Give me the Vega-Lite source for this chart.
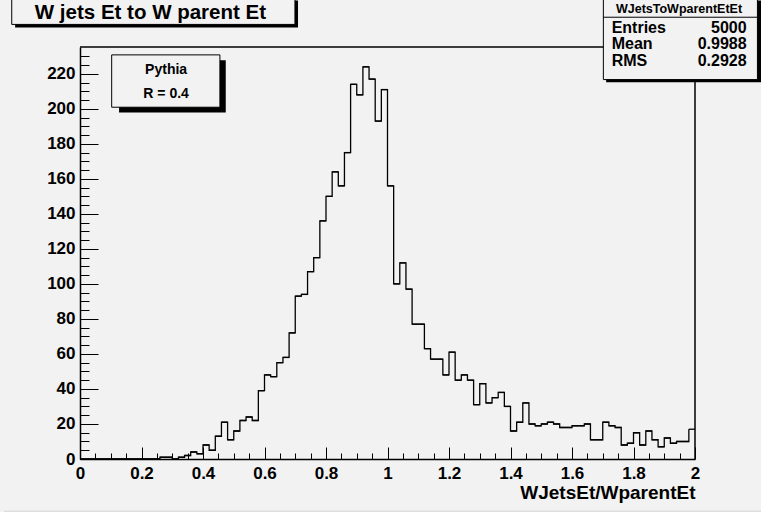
{
 "$schema": "https://vega.github.io/schema/vega-lite/v6.json",
 "width": 615, "height": 412,
 "autosize": "none",
 "padding": {"left": 80, "top": 47, "right": 66, "bottom": 53},
 "background": "#f2f2f2",
 "config": {"view": {"stroke": null}, "font": "Liberation Sans"},
 "resolve": {"axis": {"x": "independent", "y": "independent"}},
 "datasets": {"hist": [
  {"lo":0.00,"hi":0.02,"n":0},{"lo":0.02,"hi":0.04,"n":0},{"lo":0.04,"hi":0.06,"n":0},{"lo":0.06,"hi":0.08,"n":0},{"lo":0.08,"hi":0.10,"n":0},
  {"lo":0.10,"hi":0.12,"n":0},{"lo":0.12,"hi":0.14,"n":0},{"lo":0.14,"hi":0.16,"n":0},{"lo":0.16,"hi":0.18,"n":0},{"lo":0.18,"hi":0.20,"n":0},
  {"lo":0.20,"hi":0.22,"n":0},{"lo":0.22,"hi":0.24,"n":0},{"lo":0.24,"hi":0.26,"n":0},{"lo":0.26,"hi":0.28,"n":1},{"lo":0.28,"hi":0.30,"n":1},
  {"lo":0.30,"hi":0.32,"n":0},{"lo":0.32,"hi":0.34,"n":1},{"lo":0.34,"hi":0.36,"n":2},{"lo":0.36,"hi":0.38,"n":4},{"lo":0.38,"hi":0.40,"n":3},
  {"lo":0.40,"hi":0.42,"n":8},{"lo":0.42,"hi":0.44,"n":5},{"lo":0.44,"hi":0.46,"n":13},{"lo":0.46,"hi":0.48,"n":21},{"lo":0.48,"hi":0.50,"n":11},
  {"lo":0.50,"hi":0.52,"n":16},{"lo":0.52,"hi":0.54,"n":22},{"lo":0.54,"hi":0.56,"n":24},{"lo":0.56,"hi":0.58,"n":22},{"lo":0.58,"hi":0.60,"n":39},
  {"lo":0.60,"hi":0.62,"n":48},{"lo":0.62,"hi":0.64,"n":47},{"lo":0.64,"hi":0.66,"n":55},{"lo":0.66,"hi":0.68,"n":58},{"lo":0.68,"hi":0.70,"n":72},
  {"lo":0.70,"hi":0.72,"n":93},{"lo":0.72,"hi":0.74,"n":94},{"lo":0.74,"hi":0.76,"n":107},{"lo":0.76,"hi":0.78,"n":115},{"lo":0.78,"hi":0.80,"n":136},
  {"lo":0.80,"hi":0.82,"n":150},{"lo":0.82,"hi":0.84,"n":164},{"lo":0.84,"hi":0.86,"n":156},{"lo":0.86,"hi":0.88,"n":175},{"lo":0.88,"hi":0.90,"n":214},
  {"lo":0.90,"hi":0.92,"n":208},{"lo":0.92,"hi":0.94,"n":224},{"lo":0.94,"hi":0.96,"n":217},{"lo":0.96,"hi":0.98,"n":193},{"lo":0.98,"hi":1.00,"n":211},
  {"lo":1.00,"hi":1.02,"n":156},{"lo":1.02,"hi":1.04,"n":100},{"lo":1.04,"hi":1.06,"n":112},{"lo":1.06,"hi":1.08,"n":97},{"lo":1.08,"hi":1.10,"n":77},
  {"lo":1.10,"hi":1.12,"n":77},{"lo":1.12,"hi":1.14,"n":63},{"lo":1.14,"hi":1.16,"n":57},{"lo":1.16,"hi":1.18,"n":57},{"lo":1.18,"hi":1.20,"n":48},
  {"lo":1.20,"hi":1.22,"n":61},{"lo":1.22,"hi":1.24,"n":45},{"lo":1.24,"hi":1.26,"n":48},{"lo":1.26,"hi":1.28,"n":45},{"lo":1.28,"hi":1.30,"n":31},
  {"lo":1.30,"hi":1.32,"n":43},{"lo":1.32,"hi":1.34,"n":32},{"lo":1.34,"hi":1.36,"n":35},{"lo":1.36,"hi":1.38,"n":38},{"lo":1.38,"hi":1.40,"n":30},
  {"lo":1.40,"hi":1.42,"n":16},{"lo":1.42,"hi":1.44,"n":21},{"lo":1.44,"hi":1.46,"n":32},{"lo":1.46,"hi":1.48,"n":20},{"lo":1.48,"hi":1.50,"n":19},
  {"lo":1.50,"hi":1.52,"n":20},{"lo":1.52,"hi":1.54,"n":21},{"lo":1.54,"hi":1.56,"n":20},{"lo":1.56,"hi":1.58,"n":18},{"lo":1.58,"hi":1.60,"n":18},
  {"lo":1.60,"hi":1.62,"n":19},{"lo":1.62,"hi":1.64,"n":19},{"lo":1.64,"hi":1.66,"n":20},{"lo":1.66,"hi":1.68,"n":11},{"lo":1.68,"hi":1.70,"n":11},
  {"lo":1.70,"hi":1.72,"n":21},{"lo":1.72,"hi":1.74,"n":19},{"lo":1.74,"hi":1.76,"n":18},{"lo":1.76,"hi":1.78,"n":8},{"lo":1.78,"hi":1.80,"n":9},
  {"lo":1.80,"hi":1.82,"n":15},{"lo":1.82,"hi":1.84,"n":8},{"lo":1.84,"hi":1.86,"n":16},{"lo":1.86,"hi":1.88,"n":11},{"lo":1.88,"hi":1.90,"n":7},
  {"lo":1.90,"hi":1.92,"n":12},{"lo":1.92,"hi":1.94,"n":9},{"lo":1.94,"hi":1.96,"n":10},{"lo":1.96,"hi":1.98,"n":10},{"lo":1.98,"hi":2.00,"n":17}
 ]},
 "layer": [
  {
   "data": {"values": [{}]},
   "mark": {"type": "rect", "color": "#dedede", "clip": false},
   "encoding": {"x": {"datum": -0.247, "type": "quantitative", "axis": null}, "x2": {"datum": 2.22}, "y": {"datum": -29.4, "type": "quantitative", "axis": null}, "y2": {"datum": -31.5}}
  },
  {
   "data": {"name": "hist"},
   "mark": {"type": "line", "interpolate": "step-after", "color": "black", "strokeWidth": 1.3},
   "encoding": {
    "x": {"field": "lo", "type": "quantitative",
     "scale": {"domain": [0, 2], "nice": false, "zero": false},
     "axis": {
      "orient": "bottom",
      "title": "WJetsEt/WparentEt",
      "values": [0,0.2,0.4,0.6,0.8,1,1.2,1.4,1.6,1.8,2],
      "format": "~g",
      "tickSize": -12,
      "tickColor": "black", "tickWidth": 1,
      "domainColor": "black", "domainWidth": 1.5,
      "grid": false,
      "labelFont": "Liberation Sans", "labelFontSize": 17, "labelFontWeight": "bold", "labelColor": "black",
      "labelPadding": 18.5, "labelOverlap": false, "labelFlush": false, "labelBound": false,
      "titleFont": "Liberation Sans", "titleFontSize": 19, "titleFontWeight": "bold", "titleColor": "black",
      "titleAnchor": "end", "titleAlign": "right", "titleX": 615, "titleY": 39, "titleBaseline": "alphabetic"
     }},
    "y": {"field": "n", "type": "quantitative",
     "scale": {"domain": [0, 235.3], "nice": false, "zero": false},
     "axis": {
      "orient": "left",
      "title": null,
      "values": [0,20,40,60,80,100,120,140,160,180,200,220],
      "format": "d",
      "tickSize": -18,
      "tickColor": "black", "tickWidth": 1,
      "domainColor": "black", "domainWidth": 1.5,
      "grid": false,
      "labelFont": "Liberation Sans", "labelFontSize": 17, "labelFontWeight": "bold", "labelColor": "black",
      "labelPadding": 23, "labelOverlap": false, "labelBound": false, "labelFlush": false
     }}
   }
  },
  {
   "data": {"name": "hist"},
   "mark": {"type": "rule", "color": "black", "strokeWidth": 1.3},
   "encoding": {
    "x": {"field": "lo", "type": "quantitative",
     "axis": {
      "orient": "bottom", "title": null, "labels": false, "domain": false, "grid": false,
      "values": [0.05,0.1,0.15,0.25,0.3,0.35,0.45,0.5,0.55,0.65,0.7,0.75,0.85,0.9,0.95,1.05,1.1,1.15,1.25,1.3,1.35,1.45,1.5,1.55,1.65,1.7,1.75,1.85,1.9,1.95],
      "tickSize": -6, "tickColor": "black", "tickWidth": 1
     }},
    "x2": {"field": "hi"},
    "y": {"field": "n", "type": "quantitative",
     "axis": {
      "orient": "left", "title": null, "labels": false, "domain": false, "grid": false,
      "values": [5,10,15,25,30,35,45,50,55,65,70,75,85,90,95,105,110,115,125,130,135,145,150,155,165,170,175,185,190,195,205,210,215,225,230],
      "tickSize": -9, "tickColor": "black", "tickWidth": 1
     }}
   }
  },
  {
   "data": {"values": [{}]},
   "mark": {"type": "rule", "color": "black", "strokeWidth": 1.5, "clip": false},
   "encoding": {"x": {"datum": 0, "type": "quantitative", "axis": null}, "x2": {"datum": 2}, "y": {"datum": 235.3, "type": "quantitative", "axis": null}}
  },
  {
   "data": {"values": [{}]},
   "mark": {"type": "rule", "color": "black", "strokeWidth": 1.5, "clip": false},
   "encoding": {"x": {"datum": 2, "type": "quantitative", "axis": null}, "y": {"datum": 0, "type": "quantitative", "axis": null}, "y2": {"datum": 235.3}}
  },
  {
   "data": {"values": [{}]},
   "mark": {"type": "rect", "color": "black", "clip": false},
   "encoding": {"x": {"datum": -0.211, "type": "quantitative", "axis": null}, "x2": {"datum": 0.709}, "y": {"datum": 261.8, "type": "quantitative", "axis": null}, "y2": {"datum": 246.4}}
  },
  {
   "data": {"values": [{}]},
   "mark": {"type": "rect", "fill": "#f2f2f2", "stroke": "black", "strokeWidth": 1, "clip": false},
   "encoding": {"x": {"datum": -0.222, "type": "quantitative", "axis": null}, "x2": {"datum": 0.699}, "y": {"datum": 263, "type": "quantitative", "axis": null}, "y2": {"datum": 248.2}}
  },
  {
   "data": {"values": [{}]},
   "mark": {"type": "text", "font": "Liberation Sans", "fontSize": 20.5, "fontWeight": "bold", "color": "black", "align": "center", "baseline": "middle", "clip": false},
   "encoding": {"x": {"datum": 0.229, "type": "quantitative", "axis": null}, "y": {"datum": 255, "type": "quantitative", "axis": null}, "text": {"value": "W jets Et to W parent Et"}}
  },
  {
   "data": {"values": [{}]},
   "mark": {"type": "rect", "color": "black", "clip": false},
   "encoding": {"x": {"datum": 0.127, "type": "quantitative", "axis": null}, "x2": {"datum": 0.474}, "y": {"datum": 227.7, "type": "quantitative", "axis": null}, "y2": {"datum": 197.9}}
  },
  {
   "data": {"values": [{}]},
   "mark": {"type": "rect", "fill": "#f2f2f2", "stroke": "black", "strokeWidth": 1, "clip": false},
   "encoding": {"x": {"datum": 0.103, "type": "quantitative", "axis": null}, "x2": {"datum": 0.455}, "y": {"datum": 230.8, "type": "quantitative", "axis": null}, "y2": {"datum": 200.9}}
  },
  {
   "data": {"values": [{}]},
   "mark": {"type": "text", "font": "Liberation Sans", "fontSize": 14, "fontWeight": "bold", "color": "black", "align": "center", "baseline": "middle", "clip": false},
   "encoding": {"x": {"datum": 0.280, "type": "quantitative", "axis": null}, "y": {"datum": 222.4, "type": "quantitative", "axis": null}, "text": {"value": "Pythia"}}
  },
  {
   "data": {"values": [{}]},
   "mark": {"type": "text", "font": "Liberation Sans", "fontSize": 14, "fontWeight": "bold", "color": "black", "align": "center", "baseline": "middle", "clip": false},
   "encoding": {"x": {"datum": 0.280, "type": "quantitative", "axis": null}, "y": {"datum": 208.7, "type": "quantitative", "axis": null}, "text": {"value": "R = 0.4"}}
  },
  {
   "data": {"values": [{}]},
   "mark": {"type": "rect", "color": "black", "clip": false},
   "encoding": {"x": {"datum": 1.711, "type": "quantitative", "axis": null}, "x2": {"datum": 2.215}, "y": {"datum": 261.8, "type": "quantitative", "axis": null}, "y2": {"datum": 215.1}}
  },
  {
   "data": {"values": [{}]},
   "mark": {"type": "rect", "fill": "#f2f2f2", "stroke": "black", "strokeWidth": 1, "clip": false},
   "encoding": {"x": {"datum": 1.702, "type": "quantitative", "axis": null}, "x2": {"datum": 2.203}, "y": {"datum": 263, "type": "quantitative", "axis": null}, "y2": {"datum": 216.7}}
  },
  {
   "data": {"values": [{}]},
   "mark": {"type": "rule", "color": "black", "strokeWidth": 1, "clip": false},
   "encoding": {"x": {"datum": 1.702, "type": "quantitative", "axis": null}, "x2": {"datum": 2.203}, "y": {"datum": 252.3, "type": "quantitative", "axis": null}}
  },
  {
   "data": {"values": [{}]},
   "mark": {"type": "text", "font": "Liberation Sans", "fontSize": 12.5, "fontWeight": "bold", "color": "black", "align": "center", "baseline": "middle", "clip": false},
   "encoding": {"x": {"datum": 1.948, "type": "quantitative", "axis": null}, "y": {"datum": 256.9, "type": "quantitative", "axis": null}, "text": {"value": "WJetsToWparentEtEt"}}
  },
  {
   "data": {"values": [{}]},
   "mark": {"type": "text", "font": "Liberation Sans", "fontSize": 16, "fontWeight": "bold", "color": "black", "align": "left", "baseline": "middle", "clip": false},
   "encoding": {"x": {"datum": 1.729, "type": "quantitative", "axis": null}, "y": {"datum": 246.3, "type": "quantitative", "axis": null}, "text": {"value": "Entries"}}
  },
  {
   "data": {"values": [{}]},
   "mark": {"type": "text", "font": "Liberation Sans", "fontSize": 16, "fontWeight": "bold", "color": "black", "align": "left", "baseline": "middle", "clip": false},
   "encoding": {"x": {"datum": 1.729, "type": "quantitative", "axis": null}, "y": {"datum": 237.0, "type": "quantitative", "axis": null}, "text": {"value": "Mean"}}
  },
  {
   "data": {"values": [{}]},
   "mark": {"type": "text", "font": "Liberation Sans", "fontSize": 16, "fontWeight": "bold", "color": "black", "align": "left", "baseline": "middle", "clip": false},
   "encoding": {"x": {"datum": 1.729, "type": "quantitative", "axis": null}, "y": {"datum": 227.3, "type": "quantitative", "axis": null}, "text": {"value": "RMS"}}
  },
  {
   "data": {"values": [{}]},
   "mark": {"type": "text", "font": "Liberation Sans", "fontSize": 16, "fontWeight": "bold", "color": "black", "align": "right", "baseline": "middle", "clip": false},
   "encoding": {"x": {"datum": 2.168, "type": "quantitative", "axis": null}, "y": {"datum": 246.3, "type": "quantitative", "axis": null}, "text": {"value": "5000"}}
  },
  {
   "data": {"values": [{}]},
   "mark": {"type": "text", "font": "Liberation Sans", "fontSize": 16, "fontWeight": "bold", "color": "black", "align": "right", "baseline": "middle", "clip": false},
   "encoding": {"x": {"datum": 2.168, "type": "quantitative", "axis": null}, "y": {"datum": 237.0, "type": "quantitative", "axis": null}, "text": {"value": "0.9988"}}
  },
  {
   "data": {"values": [{}]},
   "mark": {"type": "text", "font": "Liberation Sans", "fontSize": 16, "fontWeight": "bold", "color": "black", "align": "right", "baseline": "middle", "clip": false},
   "encoding": {"x": {"datum": 2.168, "type": "quantitative", "axis": null}, "y": {"datum": 227.3, "type": "quantitative", "axis": null}, "text": {"value": "0.2928"}}
  }
 ]
}
